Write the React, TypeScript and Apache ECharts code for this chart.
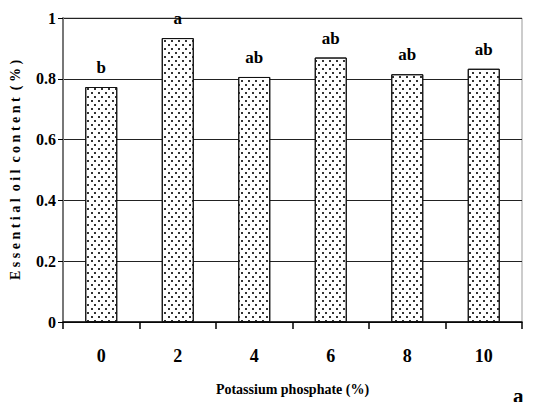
import React, { useEffect, useRef } from "react";
import * as echarts from "echarts";

const categories = ["0", "2", "4", "6", "8", "10"];
const oilContent = [0.773, 0.934, 0.806, 0.87, 0.815, 0.833];
const letters = ["b", "a", "ab", "ab", "ab", "ab"];
const yTicks = [0, 0.2, 0.4, 0.6, 0.8, 1];

const FONT = "'Liberation Serif', 'Times New Roman', serif";

export default function App() {
  const ref = useRef<HTMLDivElement>(null);
  useEffect(() => {
    if (!ref.current) return;
    const chart = echarts.init(ref.current, null, { renderer: "svg" });
    chart.setOption({
      animation: false,
      backgroundColor: "#fff",
      textStyle: { fontFamily: FONT },
      grid: { left: 62, right: 16, top: 18, bottom: 88, show: true, borderColor: "#999", borderWidth: 1 },
      xAxis: {
        type: "category",
        data: categories,
        name: "Potassium phosphate (%)",
        nameLocation: "middle",
        nameGap: 60,
        nameTextStyle: { fontFamily: FONT, fontWeight: "bold", fontSize: 14, color: "#000" },
        axisLine: { lineStyle: { color: "#000", width: 1.5 } },
        axisTick: { show: true, length: 7, lineStyle: { color: "#000", width: 1.5 } },
        axisLabel: { fontFamily: FONT, fontWeight: "bold", fontSize: 18, color: "#000", margin: 25 },
      },
      yAxis: {
        type: "value",
        min: yTicks[0],
        max: yTicks[yTicks.length - 1],
        interval: 0.2,
        name: "E s s e n t i a l  o i l  c o n t e n t  ( % )",
        nameLocation: "middle",
        nameGap: 41,
        nameRotate: 90,
        nameTextStyle: { fontFamily: FONT, fontWeight: "bold", fontSize: 14, color: "#000" },
        axisLine: { show: true, lineStyle: { color: "#777", width: 2 } },
        axisTick: { show: true, length: 5, lineStyle: { color: "#000" } },
        splitLine: { show: true, lineStyle: { color: "#222", width: 1 } },
        axisLabel: {
          fontFamily: FONT,
          fontWeight: "bold",
          fontSize: 16,
          color: "#000",
          margin: 7,
          formatter: (v: number) => (v === 0 || v === 1 ? String(v) : v.toFixed(1)),
        },
      },
      series: [
        {
          type: "bar",
          data: oilContent,
          barWidth: 32,
          itemStyle: {
            color: "#fff",
            borderColor: "#111",
            borderWidth: 1,
            decal: {
              symbol: "rect",
              symbolSize: 1,
              color: "#333",
              backgroundColor: "#fff",
              dashArrayX: [[1.4, 4.6], [0, 3, 1.4, 1.6]],
              dashArrayY: [1.4, 1.6],
              rotation: 0,
            },
          },
          label: {
            show: true,
            position: "top",
            distance: 11,
            fontFamily: FONT,
            fontWeight: "bold",
            fontSize: 17,
            color: "#000",
            formatter: (p: any) => letters[p.dataIndex],
          },
        },
      ],
      graphic: [
        {
          type: "text",
          left: 513,
          top: 385,
          style: { text: "a", fontFamily: FONT, fontWeight: "bold", fontSize: 21, fill: "#000" },
        },
      ],
    });
    return () => chart.dispose();
  }, []);
  return <div ref={ref} style={{ width: 538, height: 410, margin: -8 }} />;
}
